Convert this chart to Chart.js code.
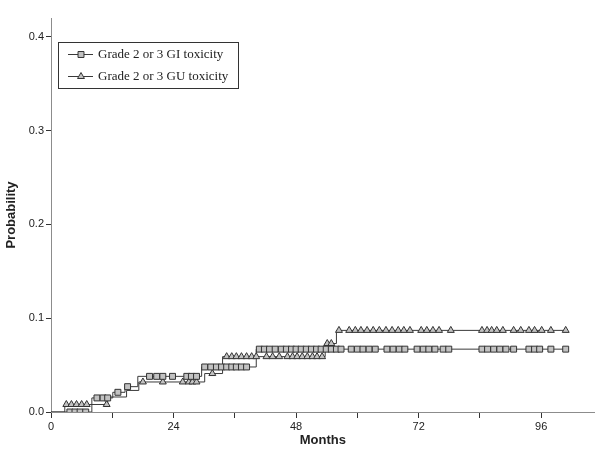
<!DOCTYPE html>
<html>
<head>
<meta charset="utf-8">
<script src="https://cdn.jsdelivr.net/npm/chart.js@4"></script>
<style>
  body { margin: 0; background: #fff; }
  #wrap { width: 600px; height: 456px; }
</style>
</head>
<body>
<div id="wrap"><canvas id="myChart" width="600" height="456"></canvas></div>
<script>
// step times (months) and cumulative probability after each step
const giSteps = [0, 8.0, 12.1, 14.5, 17.0, 29.5, 40.2]
const giLevels = [0, 0.015, 0.021, 0.027, 0.038, 0.048, 0.067]
const giCensored = [3.7, 4.7, 5.7, 6.8, 9.0, 10.2, 11.1, 13.1, 15.0, 19.3, 20.7, 21.9, 23.8, 26.6, 27.5, 28.5,
  30.1, 31.3, 32.4, 33.4, 34.4, 35.4, 36.3, 37.3, 38.3, 40.8, 41.8, 42.8, 43.9, 45.1, 46.1, 47.1, 48.0, 49.0,
  50.0, 51.0, 52.0, 52.9, 53.9, 54.9, 55.9, 56.8, 58.8, 60.0, 61.1, 62.3, 63.5, 65.8, 67.0, 68.2, 69.3, 71.7,
  72.9, 74.0, 75.2, 76.8, 77.9, 84.4, 85.5, 86.7, 87.9, 89.1, 90.6, 93.6, 94.7, 95.7, 97.9, 100.8]

const guSteps = [0, 2.7, 11.1, 14.8, 17.2, 30.1, 33.6, 53.7, 55.9]
const guLevels = [0, 0.008, 0.016, 0.023, 0.032, 0.041, 0.059, 0.073, 0.087]
const guCensored = [3.0, 4.0, 5.0, 6.0, 7.0, 10.9, 18.0, 21.9, 25.8, 27.0, 27.7, 28.5, 31.6, 34.4, 35.4, 36.3,
  37.3, 38.3, 39.3, 40.2, 42.2, 43.4, 44.7, 46.3, 47.3, 48.2, 49.2, 50.2, 51.2, 52.1, 53.1, 54.1, 54.9, 56.4,
  58.4, 59.6, 60.7, 61.9, 63.1, 64.3, 65.6, 66.8, 68.0, 69.1, 70.3, 72.5, 73.6, 74.8, 76.0, 78.3, 84.4, 85.4,
  86.3, 87.3, 88.5, 90.6, 92.0, 93.6, 94.7, 96.1, 97.9, 100.8]

const seriesLabels = ["Grade 2 or 3 GI toxicity", "Grade 2 or 3 GU toxicity"]
const xTicks = [0, 24, 48, 72, 96]
const yTicks = [0, 0.1, 0.2, 0.3, 0.4]

function levelAt(steps, levels, t) {
  let v = levels[0]
  for (let i = 0; i < steps.length; i++) if (steps[i] <= t) v = levels[i]
  return v
}

function stepLine(steps, levels, censored) {
  const pts = steps.map((m, i) => ({ x: m, y: levels[i] }))
  const end = Math.max(...censored)
  pts.push({ x: end, y: levelAt(steps, levels, end) })
  return pts
}

function marks(steps, levels, censored) {
  return censored.map((m) => ({ x: m, y: levelAt(steps, levels, m) }))
}

const lineColor = "#3a3a3a"
const markFill = "#c2c2c2"

const boxLegend = {
  id: "boxLegend",
  afterDraw(chart) {
    const ctx = chart.ctx
    ctx.save()
    ctx.strokeStyle = "#333"
    ctx.lineWidth = 1
    ctx.strokeRect(58.5, 42.5, 180, 46)
    const rows = [{ y: 54, style: "rect", r: 4.2 }, { y: 76, style: "triangle", r: 4 }]
    rows.forEach((row, i) => {
      ctx.strokeStyle = lineColor
      ctx.beginPath()
      ctx.moveTo(68, row.y + 0.5)
      ctx.lineTo(93, row.y + 0.5)
      ctx.stroke()
      ctx.fillStyle = markFill
      ctx.strokeStyle = "#333"
      ctx.lineWidth = 1
      Chart.helpers.drawPoint(ctx, { pointStyle: row.style, radius: row.r, rotation: 0, borderWidth: 1 }, 81, row.y + 0.5)
      ctx.fillStyle = "#222"
      ctx.font = "13px 'Liberation Serif'"
      ctx.textBaseline = "middle"
      ctx.fillText(seriesLabels[i], 98, row.y + 1)
    })
    ctx.restore()
  }
}

const ctx = document.getElementById("myChart")

new Chart(ctx, {
  type: "scatter",
  data: {
    datasets: [
      {
        label: seriesLabels[0] + " censored",
        data: marks(giSteps, giLevels, giCensored),
        pointStyle: "rect",
        pointRadius: 4.2,
        backgroundColor: markFill,
        borderColor: "#333",
        borderWidth: 1,
        order: 0
      },
      {
        label: seriesLabels[1] + " censored",
        data: marks(guSteps, guLevels, guCensored),
        pointStyle: "triangle",
        pointRadius: 4,
        backgroundColor: markFill,
        borderColor: "#333",
        borderWidth: 1,
        order: 0
      },
      {
        label: seriesLabels[0],
        data: stepLine(giSteps, giLevels, giCensored),
        showLine: true,
        stepped: true,
        pointRadius: 0,
        borderColor: lineColor,
        borderWidth: 1,
        order: 1
      },
      {
        label: seriesLabels[1],
        data: stepLine(guSteps, guLevels, guCensored),
        showLine: true,
        stepped: true,
        pointRadius: 0,
        borderColor: lineColor,
        borderWidth: 1,
        order: 1
      }
    ]
  },
  options: {
    responsive: false,
    animation: false,
    layout: { padding: { top: 18, right: 4, left: 0, bottom: 0 } },
    plugins: {
      legend: { display: false },
      tooltip: { enabled: false }
    },
    scales: {
      x: {
        type: "linear",
        min: 0,
        max: 106.5,
        afterFit: (s) => { s.height = 44 },
        border: { color: "#8c8c8c", width: 1 },
        grid: { drawOnChartArea: false, tickLength: 6, color: "#333" },
        ticks: {
          stepSize: 12,
          includeBounds: false,
          autoSkip: false,
          maxRotation: 0,
          padding: 2,
          color: "#222",
          font: { family: "'Liberation Sans'", size: 11 },
          callback: (v) => (xTicks.includes(v) ? String(v) : "")
        },
        title: {
          display: true,
          text: "Months",
          color: "#222",
          padding: 8,
          font: { family: "'Liberation Sans'", size: 13, weight: "bold" }
        }
      },
      y: {
        min: 0,
        max: 0.42,
        afterFit: (s) => { s.width = 51 },
        border: { color: "#8c8c8c", width: 1 },
        grid: { drawOnChartArea: false, tickLength: 5, color: "#333" },
        afterBuildTicks: (s) => { s.ticks = yTicks.map((v) => ({ value: v })) },
        ticks: {
          padding: 2,
          color: "#222",
          font: { family: "'Liberation Sans'", size: 11 },
          callback: (v) => v.toFixed(1)
        },
        title: {
          display: true,
          text: "Probability",
          color: "#222",
          padding: 4,
          font: { family: "'Liberation Sans'", size: 13, weight: "bold" }
        }
      }
    }
  },
  plugins: [boxLegend]
})
</script>
</body>
</html>
